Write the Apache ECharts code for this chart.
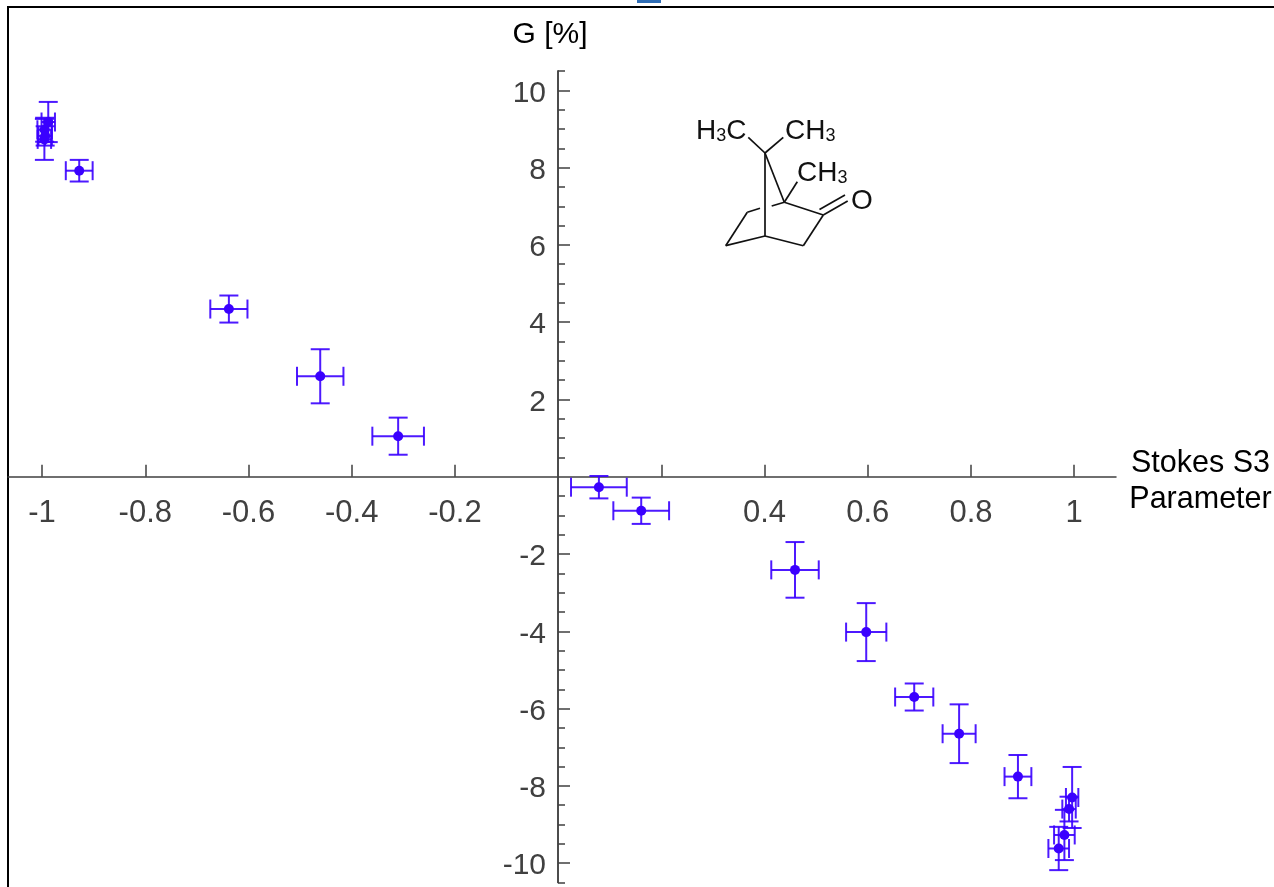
<!DOCTYPE html>
<html>
<head>
<meta charset="utf-8">
<style>html,body{margin:0;padding:0;background:#fff;overflow:hidden}#c{width:1274px;height:887px}</style>
<script src="https://cdn.jsdelivr.net/npm/echarts@6/dist/echarts.min.js"></script>
</head>
<body>
<div id="c"></div>
<script>
const stokes = [-0.988,-0.9955,-0.995,-0.994,-0.928,-0.638,-0.461,-0.31,0.079,0.161,0.459,0.597,0.69,0.777,0.891,0.996,0.990,0.981,0.970];
const gValues = [9.18,8.73,8.98,8.82,7.92,4.34,2.6,1.05,-0.27,-0.88,-2.41,-4.02,-5.7,-6.65,-7.76,-8.3,-8.6,-9.27,-9.62];
const stokesErr = [0.013,0.013,0.014,0.013,0.026,0.036,0.045,0.05,0.054,0.054,0.046,0.039,0.037,0.032,0.026,0.012,0.013,0.02,0.02];
const gErr = [0.52,0.53,0.31,0.25,0.28,0.35,0.7,0.48,0.29,0.34,0.72,0.75,0.35,0.76,0.56,0.79,0.32,0.65,0.56];
const xTicks = [-1,-0.8,-0.6,-0.4,-0.2,0.2,0.4,0.6,0.8,1];
const xTickLabels = [-1,-0.8,-0.6,-0.4,-0.2,0.4,0.6,0.8,1];
const yMajor = [-10,-8,-6,-4,-2,2,4,6,8,10];
const yMinor = [-10.5,-9.5,-9,-8.5,-7.5,-7,-6.5,-5.5,-5,-4.5,-3.5,-3,-2.5,-1.5,-1,-0.5,0.5,1,1.5,2.5,3,3.5,4.5,5,5.5,6.5,7,7.5,8.5,9,9.5,10.5];
const xTitle = 'Stokes S3\nParameter';
const yTitle = 'G [%]';

const BLUE = '#3a00ff';
const AXIS = '#404040';
const FONT = '"Liberation Sans", Arial, sans-serif';
const chart = echarts.init(document.getElementById('c'), null, {renderer:'canvas'});

const points = stokes.map((s,i)=>[s,gValues[i],stokesErr[i],gErr[i]]);
const CAP = 9.5;

function bond(x1,y1,x2,y2,w){
  return {type:'line',silent:true,shape:{x1,y1,x2,y2},style:{stroke:'#111',lineWidth:w||1.7}};
}
function atom(x,y,parts){
  return {type:'text',silent:true,x,y,style:{text:parts,fill:'#111',font:'28px '+FONT,
    rich:{a:{fontFamily:FONT,fontSize:28,fill:'#111'},s:{fontFamily:FONT,fontSize:18,fill:'#111',padding:[11,0,0,0]}},
    verticalAlign:'middle'}};
}

chart.setOption({
  animation:false,
  backgroundColor:'#fff',
  grid:{left:8,right:158,top:71,bottom:4.5,outerBoundsMode:'none',containLabel:false},
  xAxis:{type:'value',min:-1.066,max:1.081,position:'bottom',offset:-405.7,
    axisLine:{onZero:false,lineStyle:{color:AXIS,width:1.5}},
    axisTick:{show:true,inside:true,length:12,customValues:xTicks,lineStyle:{color:AXIS,width:1.5}},
    axisLabel:{show:true,customValues:xTickLabels,margin:21,fontFamily:FONT,fontSize:31,color:AXIS,hideOverlap:false,
      showMinLabel:true,showMaxLabel:true},
    splitLine:{show:false}},
  yAxis:[{type:'value',min:-10.5,max:10.5,position:'left',offset:-550,
    name:yTitle,nameLocation:'end',nameGap:36,
    nameTextStyle:{fontFamily:FONT,fontSize:30,color:'#000',align:'center',verticalAlign:'middle',padding:[0,16,0,0]},
    axisLine:{onZero:false,lineStyle:{color:AXIS,width:1.5}},
    axisTick:{show:true,inside:true,length:12,customValues:yMajor,lineStyle:{color:AXIS,width:1.5}},
    axisLabel:{show:true,customValues:yMajor,margin:12,formatter:'{v|{value}}',
      rich:{v:{fontFamily:FONT,fontSize:30,color:AXIS,padding:[6,0,0,0]}}},
    splitLine:{show:false}},
   {type:'value',min:-10.5,max:10.5,position:'left',offset:-550,
    axisLine:{onZero:false,lineStyle:{color:AXIS,width:1.5}},
    axisTick:{show:true,inside:true,length:7,customValues:yMinor,lineStyle:{color:AXIS,width:1.5}},
    axisLabel:{show:false},
    splitLine:{show:false}}],
  series:[
    {type:'custom',clip:false,data:points,z:2,
     encode:{x:0,y:1},
     renderItem:function(params,api){
       const x=api.value(0),y=api.value(1),ex=api.value(2),ey=api.value(3);
       const l=api.coord([x-ex,y]),r=api.coord([x+ex,y]),t=api.coord([x,y+ey]),b=api.coord([x,y-ey]);
       const st={stroke:BLUE,lineWidth:2,fill:null,opacity:0.9};
       const seg=(x1,y1,x2,y2)=>({type:'line',shape:{x1,y1,x2,y2},style:st});
       return {type:'group',children:[
         seg(l[0],l[1],r[0],r[1]),
         seg(l[0],l[1]-CAP,l[0],l[1]+CAP),
         seg(r[0],r[1]-CAP,r[0],r[1]+CAP),
         seg(t[0],t[1],b[0],b[1]),
         seg(t[0]-CAP,t[1],t[0]+CAP,t[1]),
         seg(b[0]-CAP,b[1],b[0]+CAP,b[1])
       ]};
     }},
    {type:'scatter',data:points.map(p=>[p[0],p[1]]),symbol:'circle',symbolSize:10,clip:false,z:3,
     itemStyle:{color:BLUE,opacity:1}}
  ],
  graphic:{elements:[
    {type:'rect',silent:true,shape:{x:637,y:0,width:24,height:3},style:{fill:'#2f6db5'}},
    {type:'line',silent:true,shape:{x1:7,y1:7,x2:1274,y2:7},style:{stroke:'#000',lineWidth:2}},
    {type:'line',silent:true,shape:{x1:8,y1:7,x2:8,y2:887},style:{stroke:'#000',lineWidth:2}},
    {type:'text',silent:true,x:1200.5,y:482,style:{text:xTitle,fill:'#000',font:'30.5px '+FONT,lineHeight:36,align:'center',verticalAlign:'middle'}},
    bond(765,153,748.3,137.3),bond(765,153,783.3,137.3),
    bond(765,153,765,236),bond(765,153,784.3,202.3),
    bond(784.3,202.3,797.3,181.7),bond(784.3,202.3,823.3,215),
    bond(823.3,215,847.7,201),bond(819.5,209.5,845,195),
    bond(823.3,215,803.3,245.7),bond(803.3,245.7,765,236),
    bond(765,236,725.7,245.7),bond(725.7,245.7,747.3,212.3),
    bond(747.3,212.3,760,208.3),bond(771.7,206,784.3,202.3),
    atom(696,131,'{a|H}{s|3}{a|C}'),
    atom(785,131,'{a|CH}{s|3}'),
    atom(797,173,'{a|CH}{s|3}'),
    atom(851,201,'{a|O}')
  ]}
});
</script>
</body>
</html>
